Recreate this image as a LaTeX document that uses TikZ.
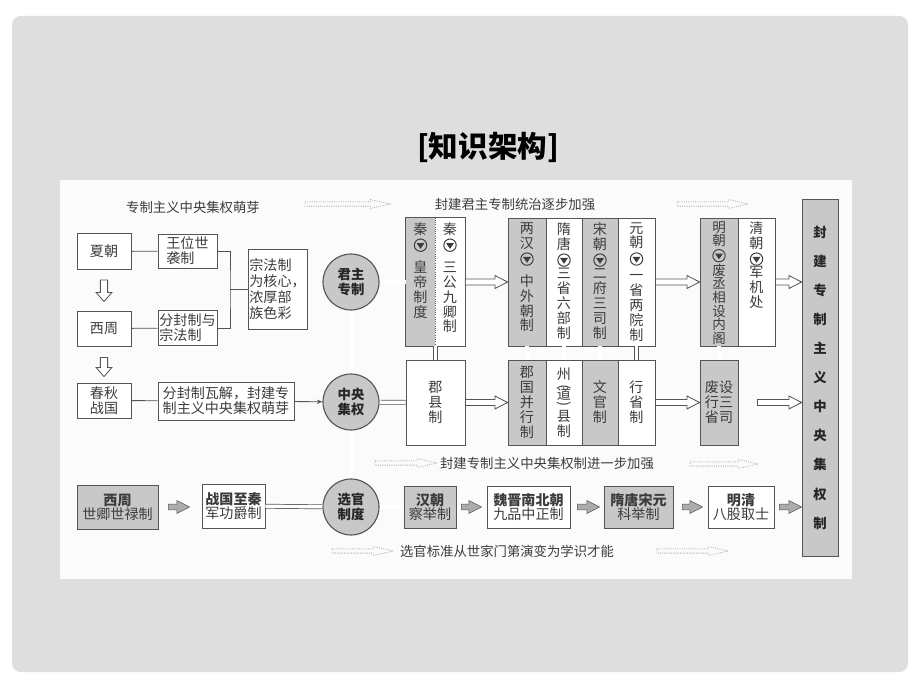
\documentclass[tikz,border=0pt]{standalone}
\usepackage{fontspec}
\setmainfont{Noto Sans CJK SC}
\usetikzlibrary{positioning,calc,arrows.meta}
\newdimen\pxu \pxu=0.025cm
\definecolor{slidegray}{RGB}{222,222,222}
\definecolor{panelwhite}{RGB}{251,251,251}
\definecolor{boxgray}{RGB}{200,200,200}
\definecolor{edgegray}{RGB}{85,85,85}
\definecolor{textgray}{RGB}{60,60,60}
% small circled down mark inside the columns
\newcommand\dn{\tikz[baseline=-0.5ex,x=1pt,y=1pt]{\draw[line width=0.7pt,fill=none] (0,0) circle (4.4);\fill[draw=none] (-2.8,1.5)--(2.8,1.5)--(0,-2.6)--cycle;}}
\begin{document}
\begin{tikzpicture}[x=0.025cm,y=-0.025cm,
  graystyle/.style={draw=edgegray,fill=boxgray,line width=0.6pt,inner sep=1pt,text=textgray,align=center,font=\fontsize{10pt}{10.6pt}\selectfont},
  whitestyle/.style={draw=edgegray,fill=white,line width=0.6pt,inner sep=1pt,text=textgray,align=center,font=\fontsize{10pt}{10.6pt}\selectfont},
  hubstyle/.style={circle,draw=edgegray,fill=boxgray,line width=0.8pt,minimum size=56\pxu,inner sep=0pt,align=center,text=black!85,font=\bfseries\fontsize{9.5pt}{11pt}\selectfont},
  boxsize/.style 2 args={minimum width=#1\pxu,minimum height=#2\pxu},
  coltext/.style={anchor=north,inner sep=0pt,align=center,text=textgray,font=\fontsize{10pt}{10.6pt}\selectfont},
  notestyle/.style={text=textgray,font=\fontsize{9.5pt}{11pt}\selectfont},
  botstyle/.style={font=\fontsize{10pt}{10pt}\selectfont},
  thinline/.style={draw=edgegray,line width=0.6pt},
  dblline/.style={draw=edgegray,double=white,double distance=2.4pt,line width=0.5pt},
  hollowstyle/.style={draw=edgegray,fill=white,line width=0.6pt},
  grayarrow/.style={draw=gray!70!black,fill=gray!65,line width=0.4pt},
  dotstyle/.style={draw=gray!65,densely dotted,line width=0.6pt},
  harrow/.style={to path={let \p1=(\tikztostart),\p2=(\tikztotarget) in
    (\x1,\y1+2.1pt) -- (\x2-9pt,\y1+2.1pt) -- (\x2-9pt,\y1+4.6pt) -- (\x2,\y1)
    -- (\x2-9pt,\y1-4.6pt) -- (\x2-9pt,\y1-2.1pt) -- (\x1,\y1-2.1pt) -- cycle}},
  varrow/.style={to path={let \p1=(\tikztostart),\p2=(\tikztotarget) in
    (\x1+2.6pt,\y1) -- (\x1+2.6pt,\y2+6.5pt) -- (\x1+5.6pt,\y2+6.5pt) -- (\x1,\y2)
    -- (\x1-5.6pt,\y2+6.5pt) -- (\x1-2.6pt,\y2+6.5pt) -- (\x1-2.6pt,\y1) -- cycle}},
  darrow/.style={to path={let \p1=(\tikztostart),\p2=(\tikztotarget) in
    (\x1,\y1+1.5pt) -- (\x2-14pt,\y1+1.5pt) -- (\x2-14pt,\y1+3.2pt) -- (\x2,\y1)
    -- (\x2-14pt,\y1-3.2pt) -- (\x2-14pt,\y1-1.5pt) -- (\x1,\y1-1.5pt) -- cycle}}]
\useasboundingbox (0,0) rectangle (920,690);
\fill[white] (0,0) rectangle (920,690);
\fill[slidegray,rounded corners=6pt] (12,16) rectangle (908,672);
\fill[panelwhite] (60,180) rectangle (852,579);
\node[font=\bfseries\fontsize{21pt}{24pt}\selectfont] (title) at (488,147) {[知识架构]};

% left part
\node[whitestyle,boxsize={54}{36}] (xia) at (104,251.5) {夏朝};
\node[whitestyle,boxsize={59}{34},align=left] (wangwei) at (187.5,251) {王位世\\袭制};
\node[whitestyle,boxsize={54}{35}] (xizhou) at (104,328.5) {西周};
\node[whitestyle,boxsize={59}{35},align=left] (fenfeng) at (187.5,328) {分封制与\\宗法制};
\node[whitestyle,boxsize={59}{80},align=left,font=\fontsize{10pt}{11.4pt}\selectfont] (zongfa) at (277.5,289) {宗法制\\为核心，\\浓厚部\\族色彩};
\node[whitestyle,boxsize={54}{35}] (chunqiu) at (104,400.5) {春秋\\战国};
\node[whitestyle,boxsize={136}{38},align=left] (fenjie) at (226,401) {分封制瓦解，封建专\\制主义中央集权萌芽};
\coordinate (bk) at (230,289);
\draw[thinline] (xia) -- (wangwei);
\draw[thinline] (xizhou) -- (fenfeng);
\draw[thinline] (wangwei.east) -| (bk) |- (fenfeng.east);
\draw[thinline] (bk) -- (zongfa.west);
\draw[thinline] (chunqiu) -- (fenjie);
\draw[hollowstyle] ($(xia.south)+(0,10)$) to[varrow] ($(xizhou.north)+(0,-9)$);
\draw[hollowstyle] ($(xizhou.south)+(0,11)$) to[varrow] ($(chunqiu.north)+(0,-6)$);

% hubs
\node[hubstyle] (junzhu) at (351,282) {君主\\专制};
\node[hubstyle] (zhongyang) at (351,402) {中央\\集权};
\node[hubstyle] (xuanguan) at (351,507) {选官\\制度};
\draw[thinline,-{Stealth[length=4pt,width=3pt]}] (fenjie) -- (zhongyang);
\draw[dblline] (junzhu) -- (zhongyang);
\draw[dblline] (zhongyang) -- (xuanguan);

% upper row
\node[fill=boxgray,boxsize={29}{128}] (qinL) at (420.5,282) {};
\node[fill=white,boxsize={30}{128}] (qinR) at (450,282) {};
\draw[thinline] (qinL.north west) rectangle (qinR.south east);
\draw[edgegray,densely dotted,line width=0.6pt] (qinL.north east) -- (qinL.south east);
\node[coltext] at (420.5,222) {秦\\\dn\\[6pt]皇\\帝\\制\\度};
\node[coltext] at (450,222) {秦\\\dn\\[6pt]三\\公\\九\\卿\\制};
\node[graystyle,boxsize={38}{128}] (han) at (527,282) {};
\node[whitestyle,boxsize={36}{128}] (suitang) at (564,282) {};
\node[graystyle,boxsize={36}{128}] (song) at (600,282) {};
\node[whitestyle,boxsize={37}{128}] (yuan) at (636.5,282) {};
\node[coltext] at (527,222) {两\\汉\\\dn\\[6pt]中\\外\\朝\\制};
\node[coltext] at (564,222) {隋\\唐\\\dn\\三\\省\\六\\部\\制};
\node[coltext] at (600,222) {宋\\朝\\\dn\\二\\府\\三\\司\\制};
\node[coltext] at (636.5,222) {元\\朝\\\dn\\[2pt]一\\省\\两\\院\\制};
\node[graystyle,boxsize={38}{128}] (ming) at (719,282) {};
\node[whitestyle,boxsize={37}{128}] (qing) at (756.5,282) {};
\node[coltext,font=\fontsize{9.6pt}{9.7pt}\selectfont] at (719,221) {明\\朝\\\dn\\废\\丞\\相\\设\\内\\阁};
\node[coltext] at (756.5,221) {清\\朝\\\dn\\军\\机\\处};
\node[graystyle,boxsize={36}{357},text=black!85,font=\bfseries\fontsize{9.5pt}{20.7pt}\selectfont] (final) at (820,377.5) {封\\建\\专\\制\\主\\义\\中\\央\\集\\权\\制};
\draw[dblline] (junzhu) -- (qinL.west |- junzhu);
\draw[hollowstyle] (qinR.east) to[harrow] (han.west);
\draw[hollowstyle] (yuan.east) to[harrow] (ming.west);
\draw[hollowstyle] (qing.east) to[harrow] (qing.east -| final.west);

% middle row
\node[whitestyle,boxsize={59}{85}] (junxian) at (435.5,402.5) {郡\\县\\制};
\node[graystyle,boxsize={38}{85}] (junguo) at (527,402.5) {郡\\国\\并\\行\\制};
\node[whitestyle,boxsize={36}{85}] (zhoudao) at (564,402.5) {州\\[-2.1pt]\rotatebox[origin=c]{90}{)}\\[-4.9pt]道\\[-4.2pt]\rotatebox[origin=c]{90}{(}\\[-1.4pt]县\\制};
\node[graystyle,boxsize={36}{85}] (wenguan) at (600,402.5) {文\\官\\制};
\node[whitestyle,boxsize={37}{85}] (xingsheng) at (636.5,402.5) {行\\省\\制};
\node[graystyle,boxsize={38}{85}] (feishe) at (719,402.5) {废设\\行三\\省司};
\draw[dblline] (zhongyang) -- (junxian);
\draw[dblline] (qinL.south east) -- (qinL.south east |- junxian.north);
\draw[dblline] (han) -- (junguo);
\draw[dblline] (suitang) -- (zhoudao);
\draw[dblline] (song) -- (wenguan);
\draw[dblline] (yuan) -- (xingsheng);
\draw[dblline] (ming) -- (feishe);
\draw[hollowstyle] (junxian.east) to[harrow] (junguo.west);
\draw[hollowstyle] (xingsheng.east) to[harrow] (feishe.west);
\draw[hollowstyle] ($(feishe.east)+(19,0)$) to[harrow] (feishe.east -| final.west);

% lower row
\node[graystyle,boxsize={81}{44},botstyle] (shiqing) at (117.5,507) {\textbf{西周}\\世卿世禄制};
\node[whitestyle,boxsize={63}{44},botstyle] (zhanguo) at (233.5,506) {\textbf{战国至秦}\\军功爵制};
\node[graystyle,boxsize={52}{42},botstyle] (hanchao) at (430,507) {\textbf{汉朝}\\察举制};
\node[whitestyle,boxsize={83}{42},botstyle] (weijin) at (528.5,507) {\textbf{魏晋南北朝}\\九品中正制};
\node[graystyle,boxsize={69}{42},botstyle] (keju) at (638.5,507) {\textbf{隋唐宋元}\\科举制};
\node[whitestyle,boxsize={66}{42},botstyle] (bagu) at (741,507) {\textbf{明清}\\八股取士};
\draw[grayarrow] ($(shiqing.east)+(10,0)$) to[harrow] ($(zhanguo.west)+(-12,0)$);
\draw[dblline] (zhanguo) -- (xuanguan);
\draw[dblline] (xuanguan) -- (hanchao);
\draw[grayarrow] ($(hanchao.east)+(5,0)$) to[harrow] ($(weijin.west)+(-5,0)$);
\draw[grayarrow] ($(weijin.east)+(7,0)$) to[harrow] ($(keju.west)+(-4,0)$);
\draw[grayarrow] ($(keju.east)+(9,0)$) to[harrow] ($(bagu.west)+(-5,0)$);
\draw[grayarrow] ($(bagu.east)+(5,0)$) to[harrow] (bagu.east -| final.west);

% dotted notes
\node[notestyle] (note1) at (193,207) {专制主义中央集权萌芽};
\node[notestyle] (note2) at (515,204) {封建君主专制统治逐步加强};
\node[notestyle] (note3) at (547,463) {封建专制主义中央集权制进一步加强};
\node[notestyle] (note4) at (507,551) {选官标准从世家门第演变为学识才能};
\coordinate (d1a) at (305,204); \coordinate (d1b) at (390,204);
\coordinate (d2a) at (677,204); \coordinate (d2b) at (748,204);
\coordinate (d3a) at (375,463); \coordinate (d3b) at (437,463);
\coordinate (d4a) at (690,464); \coordinate (d4b) at (758,464);
\coordinate (d5a) at (332,551); \coordinate (d5b) at (393,551);
\coordinate (d6a) at (657,551); \coordinate (d6b) at (728,551);
\draw[dotstyle] (d1a) to[darrow] (d1b);
\draw[dotstyle] (d2a) to[darrow] (d2b);
\draw[dotstyle] (d3a) to[darrow] (d3b);
\draw[dotstyle] (d4a) to[darrow] (d4b);
\draw[dotstyle] (d5a) to[darrow] (d5b);
\draw[dotstyle] (d6a) to[darrow] (d6b);
\end{tikzpicture}
\end{document}
